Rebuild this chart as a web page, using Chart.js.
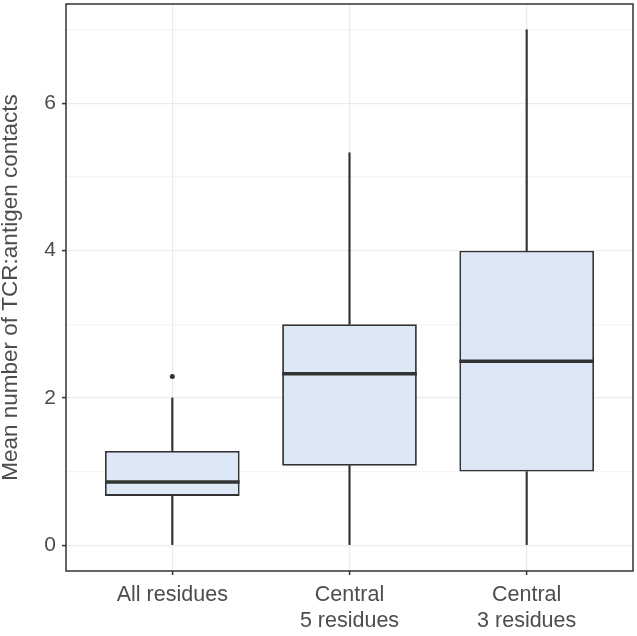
<!DOCTYPE html>
<html>
<head>
<meta charset="utf-8">
<script src="https://cdn.jsdelivr.net/npm/chart.js@4"></script>
<style>
  body { margin: 0; background: #fff; }
  #wrap { width: 637px; height: 636px; }
</style>
</head>
<body>
<div id="wrap"><canvas id="myChart" width="637" height="636"></canvas></div>
<script>
// box stats
var categories = [['All residues'], ['Central', '5 residues'], ['Central', '3 residues']];
var positions = [1, 2, 3];
var lowWhisker = [0, 0, 0];
var q1 = [0.67, 1.08, 1.0];
var medians = [0.86, 2.33, 2.5];
var q3 = [1.28, 3.0, 4.0];
var highWhisker = [2.0, 5.33, 7.0];
var outliers = [{x: 1, y: 2.29}];
var yTicks = [0, 1, 2, 3, 4, 5, 6, 7];

var dark = '#333333';
var textColor = '#4d4d4d';
var font = "'Liberation Sans', Arial, Helvetica, sans-serif";

function ranged(lo, hi) {
  return positions.map(function (p, i) { return {x: p, y: [lo[i], hi[i]]}; });
}

var datasets = [
  {label: 'lower', data: ranged(lowWhisker, q1), backgroundColor: dark, barThickness: 1.5, grouped: false},
  {label: 'upper', data: ranged(q3, highWhisker), backgroundColor: dark, barThickness: 1.5, grouped: false},
  {label: 'box', data: ranged(q1, q3), backgroundColor: '#dce8f5', borderColor: dark, borderWidth: 1.8,
   borderSkipped: false, barPercentage: 0.76, categoryPercentage: 1, grouped: false},
  {type: 'scatter', label: 'outliers', data: outliers, pointRadius: 2.5, pointBackgroundColor: dark,
   pointBorderWidth: 0}
];

// median line + panel border
const boxExtras = {
  id: 'boxExtras',
  afterDatasetsDraw(chart) {
    var ctx = chart.ctx;
    var meta = chart.getDatasetMeta(2);
    var ys = chart.scales.y;
    ctx.save();
    ctx.strokeStyle = dark;
    ctx.lineWidth = 3.5;
    meta.data.forEach(function (bar, i) {
      var y = ys.getPixelForValue(medians[i]);
      ctx.beginPath();
      ctx.moveTo(bar.x - bar.width / 2, y);
      ctx.lineTo(bar.x + bar.width / 2, y);
      ctx.stroke();
    });
    var a = chart.chartArea;
    ctx.lineWidth = 1.5;
    ctx.strokeRect(a.left, a.top, a.right - a.left, a.bottom - a.top);
    ctx.restore();
  }
};

var ctx = document.getElementById('myChart');

const cfg = {
  type: 'bar',
  data: {datasets: datasets},
  options: {
    responsive: false,
    animation: false,
    layout: {padding: {top: 1, right: 2, left: 0, bottom: 0}},
    plugins: {legend: {display: false}, tooltip: {enabled: false}},
    scales: {
      x: {
        type: 'linear',
        min: 0.4,
        max: 3.6,
        offset: false,
        afterBuildTicks: function (scale) {
          scale.ticks = positions.map(function (v) { return {value: v}; });
        },
        afterFit: function (scale) {
          scale.height = 65;
          scale.paddingLeft = 0;
          scale.paddingRight = 0;
        },
        border: {display: false},
        grid: {offset: false, color: '#ebebeb', lineWidth: 1.2, tickLength: 4, tickColor: dark, tickWidth: 1.5},
        ticks: {
          autoSkip: false,
          maxRotation: 0,
          padding: 8,
          color: textColor,
          font: {family: font, size: 21.5, lineHeight: 1.17},
          callback: function (v) { return categories[positions.indexOf(v)]; }
        }
      },
      y: {
        type: 'linear',
        min: -0.35,
        max: 7.35,
        afterBuildTicks: function (scale) {
          scale.ticks = yTicks.map(function (v) { return {value: v}; });
        },
        afterFit: function (scale) {
          scale.width = 66;
          scale.paddingTop = 0;
          scale.paddingBottom = 0;
        },
        border: {display: false},
        grid: {
          color: function (c) { return c.tick && c.tick.value % 2 === 0 ? '#ebebeb' : '#f4f4f4'; },
          lineWidth: 1.2,
          tickLength: 4,
          tickWidth: 1.5,
          tickColor: function (c) { return c.tick && c.tick.value % 2 === 0 ? dark : 'rgba(0,0,0,0)'; }
        },
        ticks: {
          padding: 6,
          color: textColor,
          font: {family: font, size: 21},
          callback: function (v) { return v % 2 === 0 ? String(v) : ''; }
        },
        title: {
          display: true,
          text: 'Mean number of TCR:antigen contacts',
          color: textColor,
          font: {family: font, size: 22.5, lineHeight: 1},
          padding: {top: 0, bottom: 0}
        }
      }
    }
  },
  plugins: [boxExtras]
};

new Chart(ctx, cfg);
</script>
</body>
</html>
